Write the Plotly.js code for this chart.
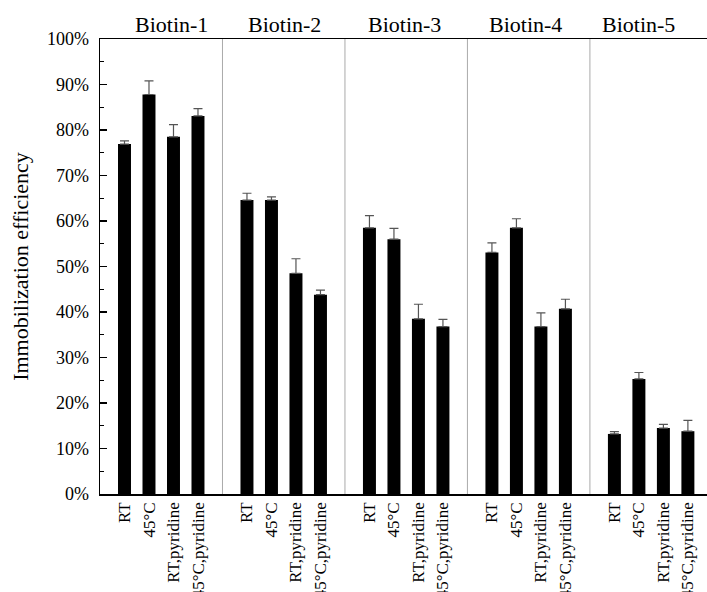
<!DOCTYPE html>
<html>
<head>
<meta charset="utf-8">
<script src="https://cdn.plot.ly/plotly-3.0.1.min.js"></script>
<style>
html,body{margin:0;padding:0;background:#fff;font-family:'Liberation Serif';}
#chart{width:707px;height:592px;}
#chart text{font-family:'Liberation Serif' !important;}
</style>
</head>
<body>
<div id="chart"></div>
<script>
const groups = ["Biotin-1", "Biotin-2", "Biotin-3", "Biotin-4", "Biotin-5"];
const conditions = ["RT", "45°C", "RT,pyridine", "45°C,pyridine"];
const values = [
  [76.9, 87.8, 78.5, 83.1],
  [64.6, 64.6, 48.5, 43.8],
  [58.5, 56.0, 38.5, 36.8],
  [53.1, 58.5, 36.8, 40.7],
  [13.2, 25.3, 14.5, 13.8]
];
const errors = [
  [0.7, 3.0, 2.7, 1.6],
  [1.5, 0.7, 3.2, 1.0],
  [2.7, 2.4, 3.2, 1.6],
  [2.1, 2.0, 3.0, 2.1],
  [0.5, 1.4, 0.8, 2.4]
];
const yTicks = [0, 10, 20, 30, 40, 50, 60, 70, 80, 90, 100];

const FONT = 'Liberation Serif';
const slotsPerGroup = 5;
const xs = [], ys = [], es = [], zeros = [], tickText = [];
groups.forEach((g, gi) => {
  conditions.forEach((c, ci) => {
    xs.push(gi * slotsPerGroup + ci + 1);
    ys.push(values[gi][ci]);
    es.push(errors[gi][ci]);
    zeros.push(0);
    tickText.push(c);
  });
});

const trace = {
  type: 'bar',
  x: xs,
  y: ys,
  width: 0.53,
  marker: {color: '#000000', line: {width: 0}},
  error_y: {type: 'data', symmetric: false, array: es, arrayminus: zeros,
            color: '#555555', thickness: 1.2, width: 4.5},
  hoverinfo: 'x+y'
};

const titleX = [2.9, 7.55, 12.45, 17.37, 22.0];
const annotations = groups.map((g, i) => ({
  x: titleX[i], xref: 'x', y: 1, yref: 'paper', yshift: 0,
  yanchor: 'bottom', xanchor: 'center', text: g, showarrow: false,
  font: {family: FONT, size: 22, color: '#000'}
}));

const shapes = [1, 2, 3, 4].map(i => ({
  type: 'line', xref: 'x', yref: 'paper',
  x0: i * slotsPerGroup, x1: i * slotsPerGroup, y0: 0, y1: 1,
  line: {color: '#aaaaaa', width: 1}
}));

const layout = {
  width: 707, height: 592,
  margin: {l: 100, r: 0, t: 39, b: 98},
  paper_bgcolor: '#fff', plot_bgcolor: '#fff',
  showlegend: false,
  font: {family: FONT, color: '#000'},
  xaxis: {
    range: [0, 24.78],
    tickmode: 'array', tickvals: xs, ticktext: tickText,
    tickangle: -90, ticks: '', showgrid: false, zeroline: false,
    showline: true, mirror: true, linecolor: '#000', linewidth: 1.5,
    tickfont: {size: 17, family: FONT, color: '#000'}
  },
  yaxis: {
    range: [0, 100],
    tickmode: 'array', tickvals: yTicks, ticktext: yTicks.map(v => v + '%'),
    ticks: 'inside', ticklen: 7, tickwidth: 1.2, tickcolor: '#000',
    minor: {dtick: 5, ticks: 'inside', ticklen: 4, tickwidth: 1.2, tickcolor: '#000', showgrid: false},
    showgrid: false, zeroline: false,
    showline: true, linecolor: '#000', linewidth: 1.5,
    ticklabelstandoff: 6,
    tickfont: {size: 18, family: FONT, color: '#000'},
    title: {text: 'Immobilization efficiency', standoff: 12,
            font: {size: 22, family: FONT, color: '#000'}}
  },
  annotations: annotations,
  shapes: shapes
};

Plotly.newPlot('chart', [trace], layout, {displayModeBar: false, staticPlot: true});
</script>
</body>
</html>
